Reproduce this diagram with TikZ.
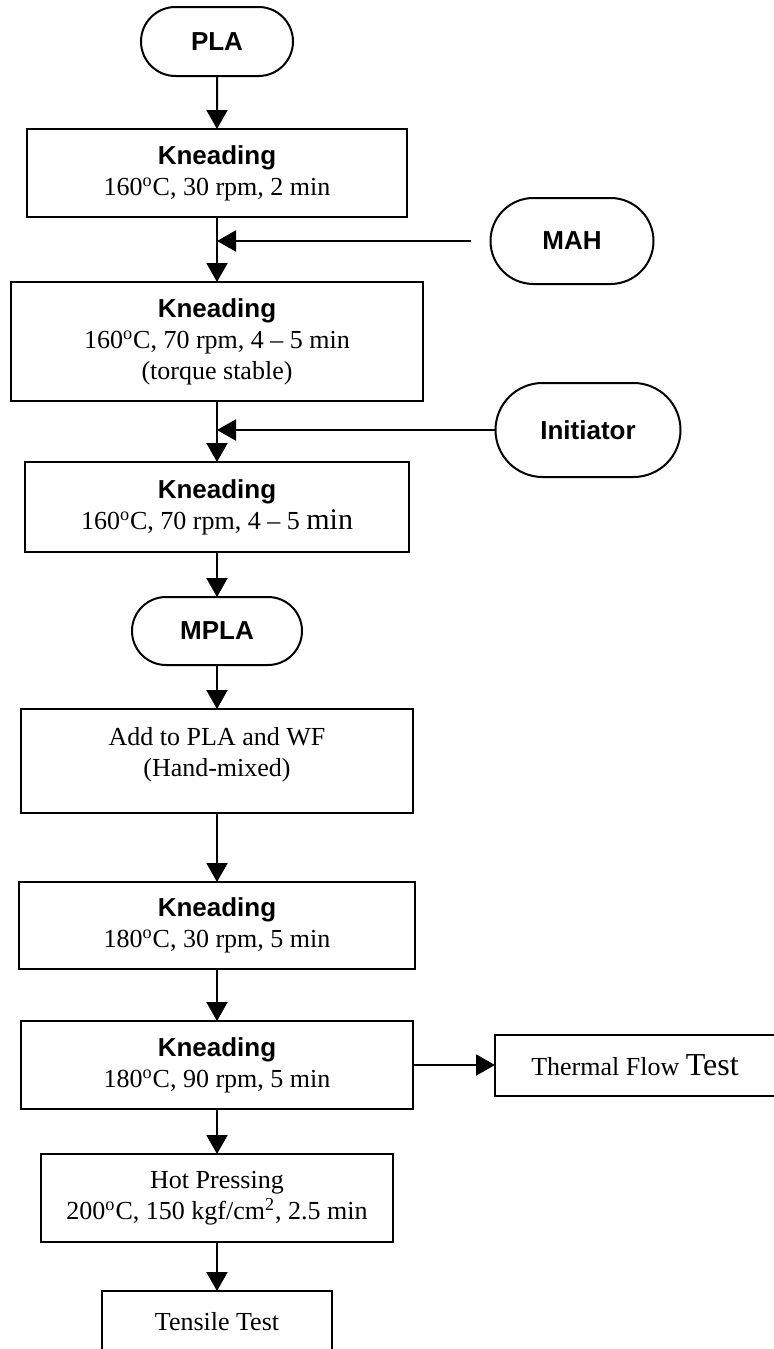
\documentclass[tikz,border=0pt]{standalone}
\usepackage{fontspec}
\setmainfont{Liberation Serif}
\newfontfamily\headfont{Liberation Sans}
\usetikzlibrary{positioning, shapes.misc, arrows.meta, calc}

\newcommand{\knead}{{\headfont\bfseries Kneading}}

\begin{document}
\begin{tikzpicture}[
    font=\fontsize{13}{15.5}\selectfont,
    stepbox/.style={draw, line width=1pt, align=center, inner sep=0pt, outer sep=0pt},
    term/.style={draw, line width=1pt, rounded rectangle, inner sep=0pt, outer sep=0pt,
        font=\fontsize{13}{15.5}\selectfont\headfont\bfseries},
    flow/.style={line width=1pt, -{Triangle[length=9.5pt, width=10.5pt]}}
]
    \useasboundingbox (0,0) rectangle (386.5pt,-674.5pt);

    \node[term, minimum width=76pt, minimum height=34.5pt] (pla) at (108.5pt,-20.75pt) {PLA};
    \node[stepbox, minimum width=190pt, minimum height=44pt, below=26.5pt of pla] (knead1)
        {\knead\\160\textsuperscript{o}C, 30 rpm, 2 min};
    \node[stepbox, minimum width=206pt, minimum height=59.5pt, below=32.5pt of knead1] (knead2)
        {\knead\\160\textsuperscript{o}C, 70 rpm, 4 -- 5 min\\(torque stable)};
    \node[stepbox, minimum width=192pt, minimum height=45pt, below=30.5pt of knead2] (knead3)
        {\knead\\160\textsuperscript{o}C, 70 rpm, 4 -- 5 {\fontsize{15}{15.5}\selectfont min}};
    \node[term, minimum width=85pt, minimum height=34pt, below=22.5pt of knead3] (mpla) {MPLA};
    \node[stepbox, minimum width=196pt, minimum height=52pt, below=22pt of mpla] (mix)
        {Add to PLA and WF\\(Hand-mixed)\\[-6.5pt]\mbox{}};
    \node[stepbox, minimum width=198pt, minimum height=43.5pt, below=34.5pt of mix] (knead4)
        {\knead\\180\textsuperscript{o}C, 30 rpm, 5 min};
    \node[stepbox, minimum width=196pt, minimum height=44pt, below=26pt of knead4] (knead5)
        {\knead\\180\textsuperscript{o}C, 90 rpm, 5 min};
    \node[stepbox, minimum width=176pt, minimum height=44pt, below=22.5pt of knead5] (press)
        {Hot Pressing\\200\textsuperscript{o}C, 150 kgf/cm\textsuperscript{2}, 2.5 min};
    \node[stepbox, minimum width=115pt, minimum height=31pt, below=24.5pt of press] (tensile) {Tensile Test};

    \node[term, minimum width=81.5pt, minimum height=43pt] (mah) at (286pt,-120.5pt) {MAH};
    \node[term, minimum width=92.5pt, minimum height=47pt] (init) at (294pt,-215pt) {Initiator};
    \node[stepbox, minimum width=140pt, minimum height=30.5pt, right=41pt of knead5] (thermal)
        {Thermal Flow {\fontsize{16}{15.5}\selectfont Test}};

    \coordinate (mahend) at ($(mah.west)+(-10pt,0)$);

    \draw[flow] (pla) -- (knead1);
    \draw[flow] (knead1) -- (knead2);
    \draw[flow] (knead2) -- (knead3);
    \draw[flow] (knead3) -- (mpla);
    \draw[flow] (mpla) -- (mix);
    \draw[flow] (mix) -- (knead4);
    \draw[flow] (knead4) -- (knead5);
    \draw[flow] (knead5) -- (press);
    \draw[flow] (press) -- (tensile);
    \draw[flow] (knead5) -- (thermal);
    \draw[flow] (mahend) -- (mahend -| knead1.south);
    \draw[flow] (init.west) -- (init.west -| knead2.south);
\end{tikzpicture}
\end{document}
